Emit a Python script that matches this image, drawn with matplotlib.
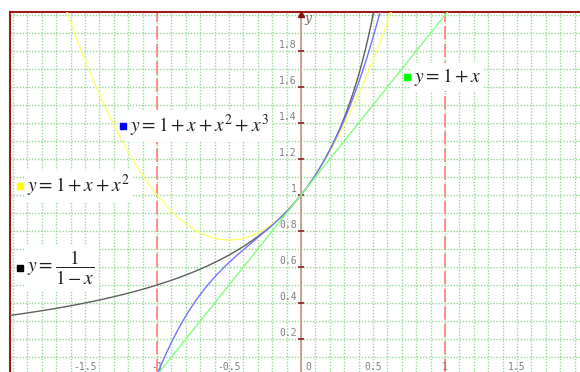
import numpy as np
import matplotlib
matplotlib.use("Agg")
import matplotlib.pyplot as plt

plt.rcParams["mathtext.fontset"] = "stix"

# sample points along x for the curves
xs = np.linspace(-2.1, 1.95, 800)

# the four functions and their legend labels
curves = [
    ("gray",   "#5f5f5f", "#000000", lambda x: 1.0 / (1.0 - x), r"$y=\dfrac{1}{1-x}$", (-1.95, 0.594)),
    ("yellow", "#ffff70", "#ffff00", lambda x: 1 + x + x**2,     r"$y=1+x+x^2$",          (-1.95, 1.05)),
    ("blue",   "#7474ff", "#0000ff", lambda x: 1 + x + x**2 + x**3, r"$y=1+x+x^2+x^3$",   (-1.236, 1.383)),
    ("green",  "#80ff80", "#00ff00", lambda x: 1 + x,            r"$y=1+x$",              (0.736, 1.656)),
]

xtick_vals = [-1.5, -1, -0.5, 0, 0.5, 1, 1.5]
xtick_text = ["-1.5", "-1", "-0.5", "0", "0.5", "1", "1.5"]
ytick_vals = [0.2, 0.4, 0.6, 0.8, 1.0, 1.2, 1.4, 1.6, 1.8]
ytick_text = ["0.2", "0.4", "0.6", "0.8", "1", "1.2", "1.4", "1.6", "1.8"]
asymptotes = [-1, 1]

x0, x1 = -2.021, 1.9375
y0, y1 = 0.0167, 2.0167

fig = plt.figure(figsize=(5.8, 3.72), dpi=100)
ax = fig.add_axes([10 / 580, 0, 570 / 580, 360 / 372])
ax.set_xlim(x0, x1)
ax.set_ylim(y0, y1)

# fine grid every 0.1
ax.set_xticks(np.round(np.arange(-2.0, 1.95, 0.1), 2))
ax.set_yticks(np.round(np.arange(0.1, 2.01, 0.1), 2))
ax.tick_params(length=0, labelbottom=False, labelleft=False)
ax.grid(True, color="#96d696", lw=1.0, linestyle=(0, (1, 1.2)), zorder=0)
ax.set_axisbelow(True)

for s in ["right", "bottom"]:
    ax.spines[s].set_visible(False)
for s in ["top", "left"]:
    ax.spines[s].set_color("#a01818")
    ax.spines[s].set_linewidth(1.5)

# asymptote markers
for a in asymptotes:
    ax.axvline(a, color="#ff7f7f", lw=1.2, dashes=(8, 2.5), zorder=1)

# y axis with ticks and arrow
ax.axvline(0, color="#c99090", lw=1.2, zorder=1)
ax.plot([0] * len(ytick_vals), ytick_vals, ls="none", marker="_", ms=5,
        mew=1.2, color="#8b2020", zorder=2)
ax.plot([0], [y1 - 0.012], marker="^", ms=5, color="#8b1010",
        clip_on=False, zorder=5)
ax.text(0.025, y1 - 0.035, "y", style="italic", family="serif",
        fontsize=9, color="#707070", va="center", ha="left")

for v, t in zip(ytick_vals, ytick_text):
    ax.text(-0.03, v + 0.035, t, ha="right", va="center",
            family="DejaVu Sans Mono", fontsize=7, color="#808080")
for v, t in zip(xtick_vals, xtick_text):
    ax.text(v + (0.03 if v == 0 else 0), 0.045, t,
            ha="left" if v == 0 else "center", va="center",
            family="DejaVu Sans Mono", fontsize=7, color="#808080")

for name, lc, mc, f, label, (lx, ly) in curves:
    xx = xs[xs < 0.8] if name == "gray" else xs
    ax.plot(xx, f(xx), color=lc, lw=1.0, zorder=3)
    ax.annotate(label, xy=(lx, ly), xytext=(5, 0), textcoords="offset points",
                ha="left", va="center", fontsize=14, color="#202020", zorder=4,
                bbox=dict(boxstyle="square,pad=0.15", fc="white", ec="none"))
    ax.plot([lx], [ly], marker="s", ms=5, color=mc, zorder=6)

fig.savefig("out.png", dpi=100)
